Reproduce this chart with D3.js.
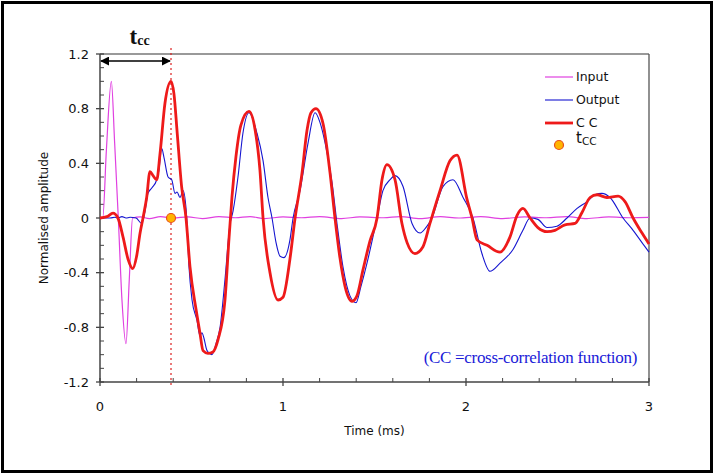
<!DOCTYPE html>
<html>
<head>
<meta charset="utf-8">
<script src="https://cdn.jsdelivr.net/npm/d3@7"></script>
<style>
  body { margin: 0; background: #fff; }
  svg { display: block; }
  .tick-label { font-family: "DejaVu Sans", sans-serif; font-size: 13px; fill: #111; }
  .axis-title { font-family: "DejaVu Sans", sans-serif; font-size: 12px; fill: #111; }
  .legend-text { font-family: "DejaVu Sans", sans-serif; font-size: 12.5px; fill: #111; }
</style>
</head>
<body>
<div id="chart"></div>
<script>
// ---- data (time in ms, normalised amplitude) ----
const xTicks = [0, 1, 2, 3];
const yTicks = [-1.2, -0.8, -0.4, 0, 0.4, 0.8, 1.2];
const tcc = 0.388;

const inputData = [
  [0, 0], [0.015, 0], [0.035, 0.5], [0.062, 1.0], [0.08, 0.55], [0.1, 0],
  [0.12, -0.6], [0.142, -0.92], [0.16, -0.45], [0.178, 0], [0.22, 0.008],
  [0.27, -0.004], [0.33, 0.01], [0.4, 0], [0.48, 0.008], [0.56, -0.004],
  [0.65, 0.01], [0.74, 0.002], [0.82, 0.01], [0.9, -0.004], [1.0, 0.008],
  [1.1, 0.002], [1.2, 0.01], [1.32, -0.004], [1.42, 0.008], [1.55, 0.002],
  [1.64, 0.01], [1.75, -0.004], [1.86, 0.01], [1.96, 0], [2.08, 0.01],
  [2.2, -0.004], [2.32, 0.008], [2.44, 0.002], [2.55, 0.01], [2.66, -0.004],
  [2.78, 0.008], [2.9, 0.002], [3.0, 0.004]
];

const outputData = [
  [0, 0], [0.055, 0], [0.082, 0.005], [0.098, 0], [0.12, 0.01], [0.142, 0],
  [0.164, 0.005], [0.197, 0], [0.228, -0.04], [0.246, 0.05], [0.262, 0.18],
  [0.283, 0.22], [0.31, 0.28], [0.322, 0.35], [0.337, 0.51], [0.35, 0.44],
  [0.372, 0.3], [0.392, 0.28], [0.41, 0.18], [0.421, 0.19], [0.437, 0.15],
  [0.454, 0.2], [0.474, 0], [0.486, -0.35], [0.503, -0.6], [0.53, -0.75],
  [0.546, -0.86], [0.557, -0.84], [0.568, -0.88], [0.585, -0.97], [0.612, -1.0],
  [0.634, -0.92], [0.656, -0.8], [0.683, -0.45], [0.71, -0.05], [0.727, 0.05],
  [0.754, 0.3], [0.781, 0.62], [0.814, 0.77], [0.858, 0.62], [0.891, 0.42],
  [0.918, 0.15], [0.94, 0], [0.962, -0.18], [0.984, -0.28], [1.005, -0.29],
  [1.038, -0.16], [1.055, 0], [1.093, 0.2], [1.137, 0.55], [1.175, 0.77],
  [1.202, 0.7], [1.23, 0.55], [1.268, 0.26], [1.295, -0.04], [1.328, -0.36],
  [1.366, -0.57], [1.399, -0.62], [1.426, -0.5], [1.459, -0.33], [1.514, 0],
  [1.546, 0.2], [1.585, 0.28], [1.612, 0.31], [1.656, 0.23], [1.705, -0.04],
  [1.749, -0.11], [1.781, -0.07], [1.814, 0], [1.874, 0.23], [1.929, 0.28],
  [1.984, 0.15], [2.038, 0], [2.087, -0.26], [2.131, -0.39], [2.186, -0.33],
  [2.257, -0.23], [2.311, -0.09], [2.35, 0], [2.393, -0.01], [2.443, -0.07],
  [2.497, -0.06], [2.552, 0], [2.607, 0.07], [2.661, 0.12], [2.705, 0.17],
  [2.743, 0.18], [2.787, 0.15], [2.858, 0], [2.913, -0.09], [2.978, -0.21],
  [3.0, -0.25]
];

const ccData = [
  [0, 0], [0.038, 0.01], [0.071, 0.035], [0.098, 0], [0.126, -0.14],
  [0.153, -0.3], [0.179, -0.37], [0.2, -0.28], [0.219, -0.11], [0.235, 0],
  [0.255, 0.15], [0.273, 0.34], [0.29, 0.31], [0.31, 0.28], [0.328, 0.47],
  [0.355, 0.84], [0.388, 1.0], [0.404, 0.91], [0.422, 0.62], [0.446, 0.23],
  [0.47, 0], [0.492, -0.36], [0.525, -0.67], [0.546, -0.84], [0.563, -0.97],
  [0.59, -0.99], [0.617, -0.98], [0.645, -0.89], [0.683, -0.6], [0.705, -0.15],
  [0.721, 0.15], [0.743, 0.45], [0.77, 0.68], [0.814, 0.78], [0.847, 0.65],
  [0.874, 0.35], [0.891, 0], [0.929, -0.4], [0.973, -0.6], [1.0, -0.58],
  [1.038, -0.3], [1.066, 0], [1.104, 0.33], [1.131, 0.64], [1.153, 0.77],
  [1.18, 0.8], [1.219, 0.69], [1.257, 0.33], [1.284, 0], [1.311, -0.29],
  [1.339, -0.5], [1.377, -0.61], [1.404, -0.57], [1.437, -0.38], [1.475, -0.17],
  [1.514, 0], [1.541, 0.28], [1.568, 0.39], [1.612, 0.28], [1.65, -0.04],
  [1.678, -0.18], [1.721, -0.26], [1.765, -0.21], [1.803, -0.04], [1.858, 0.2],
  [1.913, 0.42], [1.951, 0.46], [2.005, 0.14], [2.033, 0], [2.06, -0.16],
  [2.115, -0.2], [2.186, -0.25], [2.24, -0.14], [2.279, 0.02], [2.311, 0.07],
  [2.35, 0], [2.393, -0.07], [2.443, -0.1], [2.486, -0.09], [2.541, -0.05],
  [2.596, -0.04], [2.634, 0.04], [2.678, 0.15], [2.716, 0.17], [2.77, 0.15],
  [2.831, 0.16], [2.869, 0.12], [2.913, 0], [2.962, -0.11], [3.0, -0.19]
];

const legendItems = [
  { key: 'Input', color: '#e040e0', width: 1.2 },
  { key: 'Output', color: '#1515d0', width: 1.1 },
  { key: 'CC', color: '#ee1a1a', width: 2.8 }
];

// ---- layout ----
const W = 714, H = 474;
const margin = { top: 54, right: 65, bottom: 92, left: 100 };
const width = W - margin.left - margin.right;
const height = H - margin.top - margin.bottom;

const svg = d3.select('#chart').append('svg')
  .attr('width', W)
  .attr('height', H);

// outer frame
svg.append('rect')
  .attr('x', 2.5).attr('y', 2.5)
  .attr('width', W - 5).attr('height', H - 5)
  .attr('fill', 'none')
  .attr('stroke', '#000')
  .attr('stroke-width', 3);

const g = svg.append('g')
  .attr('transform', `translate(${margin.left},${margin.top})`);

const x = d3.scaleLinear().domain([0, 3]).range([0, width]);
const y = d3.scaleLinear().domain([-1.2, 1.2]).range([height, 0]);

// top / right frame
g.append('line').attr('x1', 0).attr('x2', width).attr('y1', 0).attr('y2', 0)
  .attr('stroke', '#777').attr('stroke-width', 1.3);
g.append('line').attr('x1', width).attr('x2', width).attr('y1', 0).attr('y2', height)
  .attr('stroke', '#555').attr('stroke-width', 1.3);

// y axis
const yMinor = d3.range(-12, 13).map(d => d / 10).filter(d => !yTicks.some(t => Math.abs(t - d) < 1e-6));
g.append('line').attr('x1', 0).attr('x2', 0).attr('y1', 0).attr('y2', height)
  .attr('stroke', '#444').attr('stroke-width', 1.5);
g.selectAll('.ymaj').data(yTicks).join('line')
  .attr('class', 'ymaj')
  .attr('x1', -4).attr('x2', 4)
  .attr('y1', d => y(d)).attr('y2', d => y(d))
  .attr('stroke', '#444').attr('stroke-width', 1.3);
g.selectAll('.ymin').data(yMinor).join('line')
  .attr('class', 'ymin')
  .attr('x1', 0).attr('x2', 4)
  .attr('y1', d => y(d)).attr('y2', d => y(d))
  .attr('stroke', '#444').attr('stroke-width', 1);
g.selectAll('.ylab').data(yTicks).join('text')
  .attr('class', 'tick-label ylab')
  .attr('x', -11)
  .attr('y', d => y(d))
  .attr('dy', '0.35em')
  .attr('text-anchor', 'end')
  .text(d => d === 0 ? '0' : d3.format('.1f')(d).replace('\u2212', '-'));

// x axis
const xMinor = d3.range(0, 16).map(d => d / 5).filter(d => d % 1 !== 0);
g.append('line').attr('x1', 0).attr('x2', width).attr('y1', height).attr('y2', height)
  .attr('stroke', '#444').attr('stroke-width', 1.5);
g.selectAll('.xmaj').data(xTicks).join('line')
  .attr('class', 'xmaj')
  .attr('x1', d => x(d)).attr('x2', d => x(d))
  .attr('y1', height - 4).attr('y2', height + 4)
  .attr('stroke', '#444').attr('stroke-width', 1.3);
g.selectAll('.xmin').data(xMinor).join('line')
  .attr('class', 'xmin')
  .attr('x1', d => x(d)).attr('x2', d => x(d))
  .attr('y1', height - 4).attr('y2', height)
  .attr('stroke', '#444').attr('stroke-width', 1);
g.selectAll('.xlab').data(xTicks).join('text')
  .attr('class', 'tick-label xlab')
  .attr('x', d => x(d))
  .attr('y', height + 24)
  .attr('dy', '0.35em')
  .attr('text-anchor', 'middle')
  .text(d => d);

// axis titles
g.append('text')
  .attr('class', 'axis-title')
  .attr('x', width / 2)
  .attr('y', height + 49)
  .attr('dy', '0.35em')
  .attr('text-anchor', 'middle')
  .text('Time (ms)');

g.append('text')
  .attr('class', 'axis-title')
  .attr('transform', `translate(-56,${y(0)}) rotate(-90)`)
  .attr('dy', '0.35em')
  .attr('text-anchor', 'middle')
  .text('Normalised amplitude');

// t_cc dotted marker line
g.append('line')
  .attr('x1', x(tcc)).attr('x2', x(tcc))
  .attr('y1', -6).attr('y2', height + 3)
  .attr('stroke', '#dd2222')
  .attr('stroke-width', 1.2)
  .attr('stroke-dasharray', '2,3');

// curves
const line = d3.line()
  .x(d => x(d[0]))
  .y(d => y(d[1]))
  .curve(d3.curveMonotoneX);

g.append('path').datum(inputData)
  .attr('d', line).attr('fill', 'none')
  .attr('stroke', legendItems[0].color).attr('stroke-width', legendItems[0].width);
g.append('path').datum(outputData)
  .attr('d', line).attr('fill', 'none')
  .attr('stroke', legendItems[1].color).attr('stroke-width', legendItems[1].width);
g.append('path').datum(ccData)
  .attr('d', line).attr('fill', 'none')
  .attr('stroke', legendItems[2].color).attr('stroke-width', legendItems[2].width)
  .attr('stroke-linejoin', 'round');

// t_cc point
g.append('circle')
  .attr('cx', x(tcc)).attr('cy', y(0)).attr('r', 4.5)
  .attr('fill', '#ffb400').attr('stroke', '#e8501a').attr('stroke-width', 1.2);

// arrow for t_cc
const defs = svg.append('defs');
defs.append('marker')
  .attr('id', 'arrowhead')
  .attr('viewBox', '0 0 10 10')
  .attr('refX', 9).attr('refY', 5)
  .attr('markerWidth', 9).attr('markerHeight', 9)
  .attr('markerUnits', 'userSpaceOnUse')
  .attr('orient', 'auto-start-reverse')
  .append('path')
  .attr('d', 'M0,0 L10,5 L0,10 Z')
  .attr('fill', '#000');

g.append('line')
  .attr('x1', x(0) + 1).attr('x2', x(tcc) - 1)
  .attr('y1', 7).attr('y2', 7)
  .attr('stroke', '#000').attr('stroke-width', 1.6)
  .attr('marker-start', 'url(#arrowhead)')
  .attr('marker-end', 'url(#arrowhead)');

const tLabel = g.append('text')
  .attr('x', x(tcc / 2) - 6)
  .attr('y', -10)
  .attr('font-family', '"Liberation Serif", serif')
  .attr('font-weight', 'bold')
  .attr('font-size', 23)
  .attr('fill', '#111');
tLabel.append('tspan').text('t');
tLabel.append('tspan').attr('font-size', 14).attr('dy', 1).text('cc');

// legend
const legend = g.append('g').attr('transform', `translate(${545 - margin.left},0)`);
const rowY = [23, 46, 69];
legendItems.forEach((item, i) => {
  legend.append('line')
    .attr('x1', 0).attr('x2', 28)
    .attr('y1', rowY[i]).attr('y2', rowY[i])
    .attr('stroke', item.color)
    .attr('stroke-width', item.width);
  legend.append('text')
    .attr('class', 'legend-text')
    .attr('x', 31)
    .attr('y', rowY[i])
    .attr('dy', '0.35em')
    .text(item.key === 'CC' ? 'C C' : item.key);
});
legend.append('circle')
  .attr('cx', 14).attr('cy', 91).attr('r', 4.5)
  .attr('fill', '#ffb400').attr('stroke', '#e8501a').attr('stroke-width', 1.2);
const lt = legend.append('text')
  .attr('class', 'legend-text')
  .attr('x', 31).attr('y', 89);
lt.append('tspan').attr('font-size', 15).text('t');
lt.append('tspan').attr('font-size', 10.5).attr('dy', 2).text('CC');

// note
g.append('text')
  .attr('x', 537)
  .attr('y', 303)
  .attr('dy', '0.35em')
  .attr('text-anchor', 'end')
  .attr('font-family', '"Liberation Serif", serif')
  .attr('font-size', 17)
  .attr('letter-spacing', -0.3)
  .attr('fill', '#1a1ad8')
  .text('(CC =cross-correlation function)');
</script>
</body>
</html>
